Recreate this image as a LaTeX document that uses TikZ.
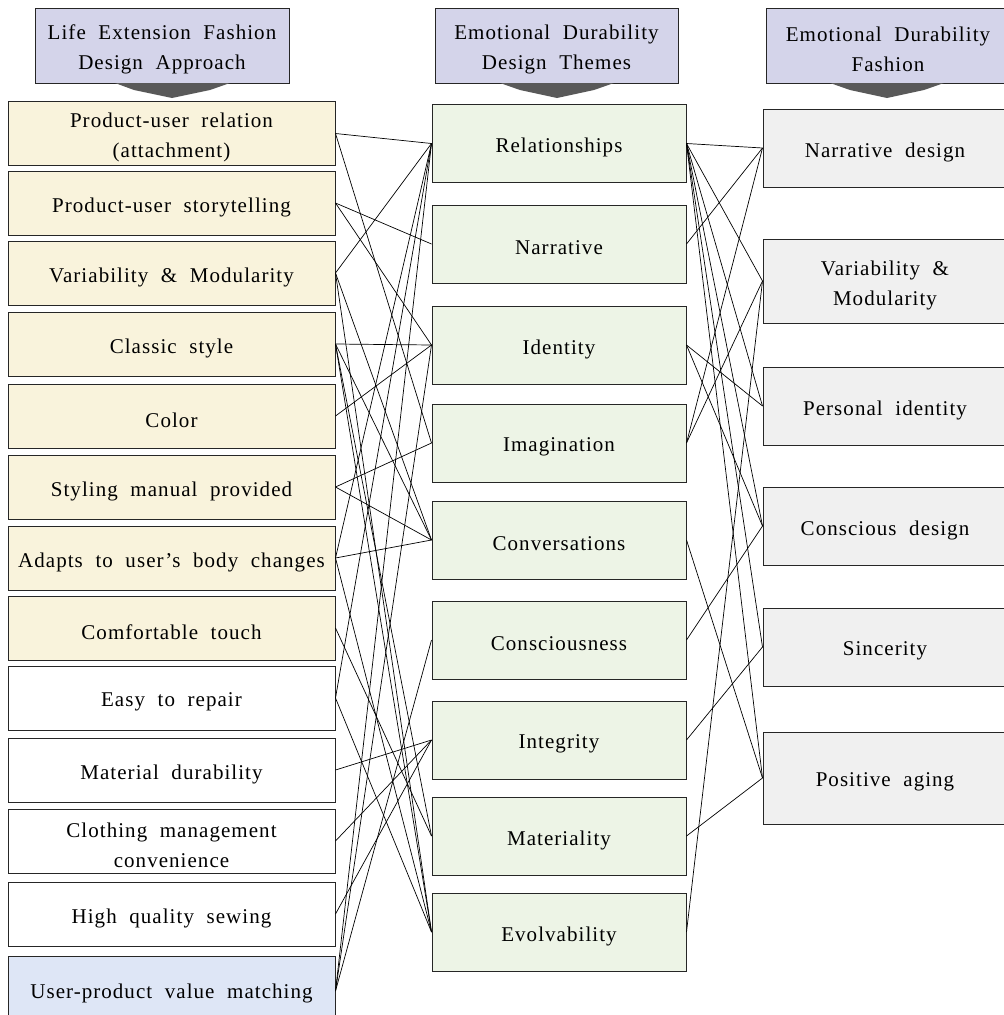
\documentclass[tikz,border=0pt]{standalone}
\usepackage{fontspec}
\setmainfont{Liberation Serif}[LetterSpace=5,WordSpace=2]
\definecolor{hdr}{RGB}{212,212,234}
\definecolor{cream}{RGB}{249,243,220}
\definecolor{lblue}{RGB}{222,230,246}
\definecolor{lgreen}{RGB}{237,244,230}
\definecolor{lgray}{RGB}{240,240,240}
\definecolor{darr}{RGB}{89,89,89}
\newcommand\boxtext[2]{\node[txt] (#1t) at ([yshift=-4pt]#1.center) {#2};}
\begin{document}
\begin{tikzpicture}[x=1pt,y=-1pt,
  txt/.style={font=\fontsize{21}{30}\selectfont, align=center, inner sep=0pt},
  hbox/.style={draw=black!85, line width=1pt, fill=hdr, minimum height=75pt, inner sep=0pt},
  lbox/.style={draw=black!85, line width=1pt, minimum width=327pt, minimum height=64pt, inner sep=0pt},
  mbox/.style={draw=black!85, line width=1pt, fill=lgreen, minimum width=254pt, minimum height=78pt, inner sep=0pt},
  rbox/.style={draw=black!85, line width=1pt, fill=lgray, minimum width=244pt, minimum height=78pt, inner sep=0pt},
  conn/.style={draw=black, line width=0.7pt},
  harrow/.style={fill=darr, draw=none}]
\useasboundingbox (0,0) rectangle (1004,1015);
\fill[white] (0,0) rectangle (1004,1015);
% headers
\node[hbox, minimum width=254pt] (H1) at (162,45.5) {};
\node[hbox, minimum width=243pt] (H2) at (556.5,45.5) {};
\node[hbox, minimum width=244pt] (H3) at (888,45.5) {};
\boxtext{H1}{Life Extension Fashion\\Design Approach}
\boxtext{H2}{Emotional Durability\\Design Themes}
\boxtext{H3}{Emotional Durability\\Fashion}
\fill[harrow] (115,83) -- (230,83) -- (210,90) -- (172,98) -- (134,90) -- cycle;
\fill[harrow] (500,83) -- (614,83) -- (594,90) -- (557,98) -- (520,90) -- cycle;
\fill[harrow] (830,83) -- (944,83) -- (924,90) -- (887,98) -- (850,90) -- cycle;
% left column
\node[lbox, fill=cream] (L1) at (171.5,133.5) {};
\node[lbox, fill=cream] (L2) at (171.5,203) {};
\node[lbox, fill=cream] (L3) at (171.5,273) {};
\node[lbox, fill=cream] (L4) at (171.5,344) {};
\node[lbox, fill=cream] (L5) at (171.5,416) {};
\node[lbox, fill=cream] (L6) at (171.5,487) {};
\node[lbox, fill=cream] (L7) at (171.5,558) {};
\node[lbox, fill=cream] (L8) at (171.5,628) {};
\node[lbox, fill=white] (L9) at (171.5,698) {};
\node[lbox, fill=white] (L10) at (171.5,770) {};
\node[lbox, fill=white] (L11) at (171.5,841) {};
\node[lbox, fill=white] (L12) at (171.5,914) {};
\node[lbox, fill=lblue, minimum height=70pt] (L13) at (171.5,991) {};
\boxtext{L1}{Product-user relation\\(attachment)}
\boxtext{L2}{Product-user storytelling}
\boxtext{L3}{Variability \& Modularity}
\boxtext{L4}{Classic style}
\boxtext{L5}{Color}
\boxtext{L6}{Styling manual provided}
\boxtext{L7}{Adapts to user’s body changes}
\boxtext{L8}{Comfortable touch}
\boxtext{L9}{Easy to repair}
\boxtext{L10}{Material durability}
\boxtext{L11}{Clothing management\\convenience}
\boxtext{L12}{High quality sewing}
\node[txt] (L13t) at (171.5,993) {User-product value matching};
% middle column
\node[mbox] (M1) at (559,143.5) {};
\node[mbox] (M2) at (559,244) {};
\node[mbox] (M3) at (559,345) {};
\node[mbox] (M4) at (559,443) {};
\node[mbox] (M5) at (559,540) {};
\node[mbox] (M6) at (559,640) {};
\node[mbox] (M7) at (559,740) {};
\node[mbox] (M8) at (559,836) {};
\node[mbox] (M9) at (559,932) {};
\boxtext{M1}{Relationships}
\boxtext{M2}{Narrative}
\boxtext{M3}{Identity}
\boxtext{M4}{Imagination}
\boxtext{M5}{Conversations}
\boxtext{M6}{Consciousness}
\boxtext{M7}{Integrity}
\boxtext{M8}{Materiality}
\boxtext{M9}{Evolvability}
% right column
\node[rbox] (R1) at (885,148) {};
\node[rbox, minimum height=84pt] (R2) at (885,281) {};
\node[rbox] (R3) at (885,406) {};
\node[rbox] (R4) at (885,526) {};
\node[rbox] (R5) at (885,647) {};
\node[rbox, minimum height=92pt] (R6) at (885,778) {};
\boxtext{R1}{Narrative design}
\boxtext{R2}{Variability \&\\Modularity}
\boxtext{R3}{Personal identity}
\boxtext{R4}{Conscious design}
\boxtext{R5}{Sincerity}
\boxtext{R6}{Positive aging}
% left -> middle
\foreach \a/\b in {L1/M1,L1/M4,L2/M2,L2/M3,L3/M1,L3/M5,L3/M9,L4/M3,L4/M5,L4/M8,L4/M9,
  L5/M3,L6/M4,L6/M5,L7/M5,L7/M1,L7/M9,L8/M8,L9/M1,L9/M9,L10/M7,L11/M7,L12/M7,
  L13/M1,L13/M3,L13/M6}
  \draw[conn] (\a.east) -- (\b.west);
% middle -> right
\foreach \a/\b in {M1/R1,M1/R2,M1/R3,M1/R4,M1/R5,M1/R6,M2/R1,M3/R3,M3/R4,M4/R1,M4/R2,
  M5/R6,M6/R4,M7/R5,M8/R6,M9/R2}
  \draw[conn] (\a.east) -- (\b.west);
\end{tikzpicture}
\end{document}
